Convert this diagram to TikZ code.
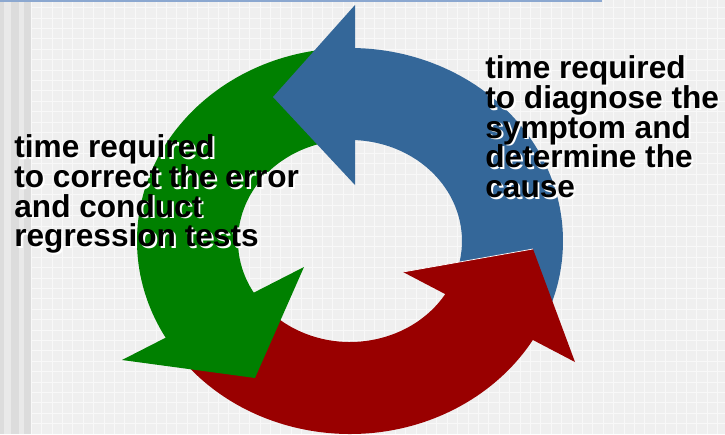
\documentclass[tikz,border=0pt]{standalone}
\usepackage{fontspec}
\setmainfont{Liberation Sans}

\definecolor{arrowblue}{RGB}{52,103,153}
\definecolor{arrowred}{RGB}{153,0,0}
\definecolor{arrowgreen}{RGB}{0,128,0}
\definecolor{slidegray}{RGB}{239,239,239}
\definecolor{stripedark}{RGB}{220,220,220}
\definecolor{stripelight}{RGB}{233,233,233}
\definecolor{topline}{RGB}{140,168,208}

\begin{document}
\begin{tikzpicture}[x=0.02cm, y=0.02cm,
    cycletext/.style={anchor=north west, inner sep=0pt, align=left,
      font=\bfseries\fontsize{18}{17}\selectfont},
    textshadow/.style={cycletext, text=white, xshift=1.1pt, yshift=-1.1pt}]
  \useasboundingbox (0,0) rectangle (725,434);
  \fill[slidegray] (0,0) rectangle (725,434);
  \draw[white, line width=0.5pt, opacity=0.6] (31,0) grid[step=10.4] (725,434);
  \fill[stripedark] (0,0) rectangle (4,434);
  \fill[stripelight] (4,0) rectangle (11,434);
  \fill[stripedark] (11,0) rectangle (19,434);
  \fill[stripelight] (19,0) rectangle (24,434);
  \fill[stripedark] (24,0) rectangle (31,434);
  \draw[topline, line width=1.2pt] (0,433) -- (602,433);

  \begin{scope}[shift={(350,193)}]
    \fill[arrowgreen] (95:213 and 193) arc[start angle=95, end angle=212, x radius=213, y radius=193]
      -- (212:112 and 101) arc[start angle=212, end angle=95, x radius=112, y radius=101] -- cycle;
    \fill[arrowred] (215:213 and 193) arc[start angle=215, end angle=331, x radius=213, y radius=193]
      -- (331:112 and 101) arc[start angle=331, end angle=215, x radius=112, y radius=101] -- cycle;
    \fill[arrowblue] (-22:213 and 193) arc[start angle=-22, end angle=90, x radius=213, y radius=193]
      -- (90:112 and 101) arc[start angle=90, end angle=-22, x radius=112, y radius=101] -- cycle;
  \end{scope}

  \coordinate (bluetip) at (273,337);
  \coordinate (redtip) at (533,185);
  \coordinate (greentip) at (255,56);
  \fill[arrowblue] (bluetip) -- (355,429) -- (355,249) -- cycle;
  \fill[arrowred] (redtip) -- (403,162) -- (575,72) -- cycle;
  \draw[white, line width=0.4pt] (403,162) -- (redtip);
  \fill[arrowgreen] (greentip) -- (304,167) -- (122,74) -- cycle;

  \node[textshadow] (leftshadow) at (14,300) {time required\\to correct the error\\and conduct\\regression tests};
  \node[cycletext] (lefttext) at (14,300) {time required\\to correct the error\\and conduct\\regression tests};
  \node[textshadow] (rightshadow) at (485,379) {time required\\to diagnose the\\symptom and\\determine the\\cause};
  \node[cycletext] (righttext) at (485,379) {time required\\to diagnose the\\symptom and\\determine the\\cause};
\end{tikzpicture}
\end{document}
